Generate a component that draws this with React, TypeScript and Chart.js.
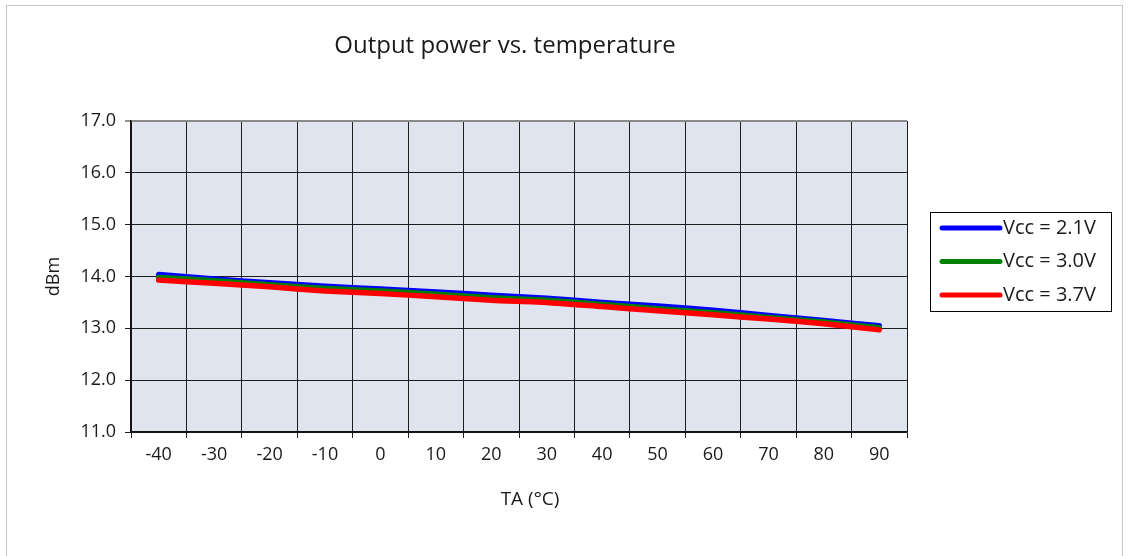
import React, { useEffect, useRef } from 'react';
import { Chart, registerables } from 'chart.js';

Chart.register(...registerables);

const categories = ['-40', '-30', '-20', '-10', '0', '10', '20', '30', '40', '50', '60', '70', '80', '90'];
const vcc21 = [14.04, 13.95, 13.88, 13.81, 13.76, 13.70, 13.64, 13.58, 13.50, 13.43, 13.35, 13.25, 13.15, 13.05];
const vcc30 = [13.98, 13.92, 13.84, 13.77, 13.72, 13.66, 13.59, 13.54, 13.46, 13.38, 13.30, 13.21, 13.12, 13.01];
const vcc37 = [13.93, 13.87, 13.80, 13.72, 13.67, 13.61, 13.54, 13.50, 13.42, 13.34, 13.26, 13.18, 13.09, 12.97];
const seriesLabels = ['Vcc = 2.1V', 'Vcc = 3.0V', 'Vcc = 3.7V'];
const seriesColors = ['#0000ff', '#008000', '#ff0000'];
const yTicks = [11, 12, 13, 14, 15, 16, 17];
const chartTitle = 'Output power vs. temperature';
const xTitle = 'TA (°C)';
const yTitle = 'dBm';

const FONT = "'Open Sans', 'DejaVu Sans', sans-serif";
const TEXT = '#1a1a1a';

const decorPlugin = {
  id: 'decor',
  beforeDraw(chart: any) {
    const { ctx, chartArea: a } = chart;
    ctx.save();
    ctx.fillStyle = '#ffffff';
    ctx.fillRect(0, 0, chart.width, chart.height);
    ctx.strokeStyle = '#c8c4bc';
    ctx.lineWidth = 1;
    ctx.strokeRect(6.5, 5.5, 1116, 620);
    ctx.fillStyle = '#dfe4ee';
    ctx.fillRect(a.left, a.top, a.right - a.left, a.bottom - a.top);
    ctx.restore();
  },
  afterDraw(chart: any) {
    const { ctx, chartArea: a } = chart;
    ctx.save();
    // title
    ctx.fillStyle = TEXT;
    ctx.font = `24px ${FONT}`;
    ctx.textAlign = 'center';
    ctx.textBaseline = 'alphabetic';
    ctx.fillText(chartTitle, a.left + (a.right - a.left) / 2 - 14, 53);
    // x axis title
    ctx.font = `19px ${FONT}`;
    ctx.textBaseline = 'middle';
    ctx.fillText(xTitle, a.left + (a.right - a.left) / 2 + 11, 500);
    // legend
    const bx = a.right + 23;
    const by = 212.5;
    ctx.strokeStyle = '#000';
    ctx.lineWidth = 1;
    ctx.strokeRect(Math.round(bx) + 0.5, by, 181, 99);
    ctx.font = `20px ${FONT}`;
    ctx.textAlign = 'left';
    chart.data.datasets.forEach((ds: any, i: number) => {
      const y = 228 + i * 33.5;
      ctx.strokeStyle = ds.borderColor;
      ctx.lineWidth = 5;
      ctx.lineCap = 'round';
      ctx.beginPath();
      ctx.moveTo(bx + 12, y);
      ctx.lineTo(bx + 70, y);
      ctx.stroke();
      ctx.fillStyle = TEXT;
      ctx.fillText(ds.label, bx + 73, y);
    });
    ctx.restore();
  },
};

export default function App() {
  const ref = useRef<HTMLCanvasElement | null>(null);

  useEffect(() => {
    if (!ref.current) return;
    const series = [vcc21, vcc30, vcc37];
    const chart = new Chart(ref.current, {
      type: 'line',
      data: {
        labels: categories,
        datasets: series.map((d, i) => ({
          label: seriesLabels[i],
          data: d,
          borderColor: seriesColors[i],
          backgroundColor: seriesColors[i],
          borderWidth: 5.5,
          borderCapStyle: 'round',
          borderJoinStyle: 'round',
          pointRadius: 0,
          tension: 0.2,
          fill: false,
          order: 2 - i,
        })),
      },
      options: {
        responsive: false,
        animation: false,
        layout: { padding: { top: 121, right: 221, left: 0, bottom: 0 } },
        plugins: {
          legend: { display: false },
          title: { display: false },
          tooltip: { enabled: false },
        },
        scales: {
          x: {
            type: 'category',
            offset: true,
            grid: {
              offset: true,
              color: (c: any) => (c.index === categories.length ? '#8a8a8a' : '#1e1e1e'),
              lineWidth: (c: any) => (c.index === categories.length ? 2 : 1),
              tickColor: '#1e1e1e',
              tickLength: 6,
              tickWidth: 1,
            },
            border: { color: '#111111', width: 1.5 },
            ticks: {
              color: TEXT,
              font: { family: FONT, size: 18 },
              padding: 6,
              maxRotation: 0,
              autoSkip: false,
            },
            afterFit: (s: any) => {
              s.height = 124;
            },
          },
          y: {
            min: yTicks[0],
            max: yTicks[yTicks.length - 1],
            afterBuildTicks: (s: any) => {
              s.ticks = yTicks.map((v) => ({ value: v }));
            },
            grid: {
              color: (c: any) => (c.tick && c.tick.value === yTicks[yTicks.length - 1] ? '#8a8a8a' : '#1e1e1e'),
              lineWidth: (c: any) => (c.tick && c.tick.value === yTicks[yTicks.length - 1] ? 2 : 1),
              tickColor: '#1e1e1e',
              tickLength: 6,
              tickWidth: 1,
            },
            border: { color: '#111111', width: 1.5 },
            ticks: {
              color: TEXT,
              font: { family: FONT, size: 18 },
              padding: 9,
              callback: (v: any) => Number(v).toFixed(1),
            },
            title: {
              display: true,
              text: yTitle,
              color: TEXT,
              font: { family: FONT, size: 18 },
              padding: { top: 43, bottom: 0 },
            },
            afterFit: (s: any) => {
              s.width = 131;
            },
          },
        },
      } as any,
      plugins: [decorPlugin],
    });
    return () => chart.destroy();
  }, []);

  return (
    <div style={{ position: 'fixed', left: 0, top: 0, width: 1128, height: 556, background: '#fff' }}>
      <canvas ref={ref} width={1128} height={556} style={{ display: 'block', width: 1128, height: 556 }} />
    </div>
  );
}
